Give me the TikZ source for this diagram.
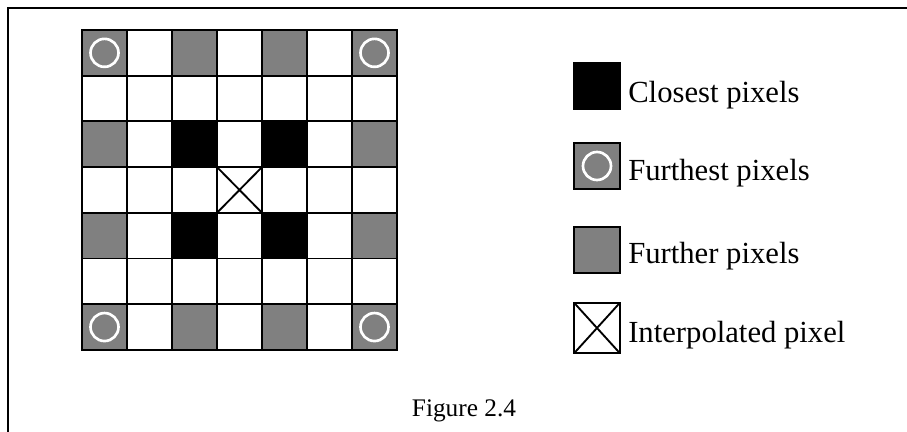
\documentclass[tikz,border=0pt]{standalone}
\usepackage{fontspec}
\setmainfont{Liberation Serif}
\usepackage{tikz}
\definecolor{pixgray}{HTML}{808080}

\begin{document}
\begin{tikzpicture}[x=0.75pt, y=-0.75pt,
          pix/.style={rectangle, draw=black, line width=1.4pt, fill=white,
                      inner sep=0pt, outer sep=0pt,
                      minimum width=33.75pt, minimum height=34.3pt},
          closest/.style={pix, fill=black},
          further/.style={pix, fill=pixgray},
          ring/.style={draw=white, line width=2pt},
          keybox/.style={rectangle, draw=black, line width=1.4pt,
                         inner sep=0pt, outer sep=0pt,
                         minimum width=34.5pt, minimum height=34.5pt},
          keytext/.style={anchor=base west, inner sep=0pt,
                          font=\fontsize{23}{27}\selectfont}
        ]
        \useasboundingbox (0,0) rectangle (907,432);
        %% Frame (left and top)
        \draw[line width=2pt] (8,432) -- (8,8) -- (907,8);
        %% Pixel grid
        \foreach \r in {1,...,7}
          \foreach \c in {1,...,7}
            \node[pix] (p\r\c) at ({82+45*(\c-0.5)}, {30+45.7*(\r-0.5)}) {};
        %% Further and furthest pixels
        \foreach \r/\c in {1/1,1/3,1/5,1/7,3/1,3/7,5/1,5/7,7/1,7/3,7/5,7/7}
          \node[further] (g\r\c) at (p\r\c) {};
        \foreach \r/\c in {1/1,1/7,7/1,7/7}
          \draw[ring] (g\r\c) circle[radius=10.5pt];
        %% Closest pixels
        \foreach \r/\c in {3/3,3/5,5/3,5/5}
          \node[closest] (b\r\c) at (p\r\c) {};
        %% Interpolated pixel
        \draw[line width=1.4pt] (p44.north west) -- (p44.south east)
              (p44.north east) -- (p44.south west);
        %% Key
        \node[keybox, fill=black] (kclose) at (597,86) {};
        \node[keybox, fill=pixgray] (kfar) at (597,166) {};
        \draw[ring] (kfar) circle[radius=10.5pt];
        \node[keybox, fill=pixgray] (kfurther) at (597,250) {};
        \node[keybox, fill=white, minimum height=38pt] (kinterp) at (597,328) {};
        \draw[line width=1.4pt] (kinterp.north west) -- (kinterp.south east)
              (kinterp.north east) -- (kinterp.south west);
        \node[keytext] (tclose) at (628,102) {Closest pixels};
        \node[keytext] (tfar) at (628,180) {Furthest pixels};
        \node[keytext] (tfurther) at (628,263) {Further pixels};
        \node[keytext] (tinterp) at (628,342) {Interpolated pixel};
        %% Caption
        \node[anchor=base, inner sep=0pt, font=\fontsize{19}{23}\selectfont]
              (caption) at (464,416) {Figure 2.4};
      \end{tikzpicture}
\end{document}
